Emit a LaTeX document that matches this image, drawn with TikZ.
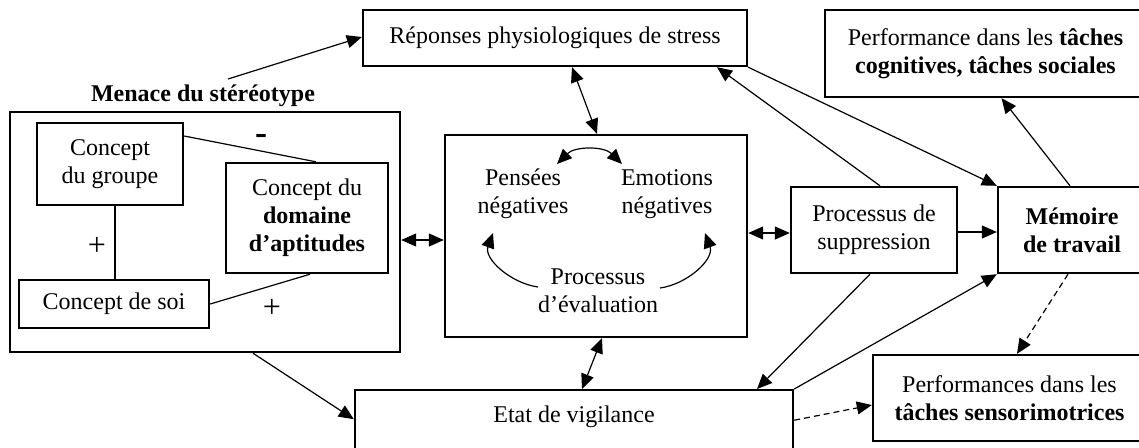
\documentclass[tikz,border=0pt]{standalone}
\usepackage{fontspec}
\setmainfont{Liberation Serif}
\usetikzlibrary{arrows.meta,calc}
\begin{document}
\begin{tikzpicture}[x=0.5pt,y=-0.5pt,
  every node/.style={font=\fontsize{12}{14}\selectfont},
  box/.style={draw,line width=1.2pt,inner sep=0pt,align=center},
  txt/.style={inner sep=0pt,align=center},
  conn/.style={line width=0.6pt},
  arr/.style={conn,-{Triangle[length=7.5pt,width=6.5pt]}},
  darr/.style={conn,{Triangle[length=7.5pt,width=6.5pt]}-{Triangle[length=7.5pt,width=6.5pt]}},
  dash line/.style={dash pattern=on 3pt off 2pt}]
\useasboundingbox (0,0) rectangle (1139,447);
\clip (0,0) rectangle (1139,447);

% boxes
\node[box,minimum width=192pt,minimum height=28pt] (resp) at (555,38) {Réponses physiologiques de stress};
\node[box,minimum width=160.5pt,minimum height=43.5pt] (perfcog) at (985.5,53.5) {Performance dans les \textbf{tâches}\\\textbf{cognitives, tâches sociales}};
\node[txt,font=\fontsize{12}{14}\selectfont\bfseries] (title) at (203,96) {Menace du stéréotype};
\node[box,minimum width=195pt,minimum height=120pt] (menace) at (205,232) {};
\node[box,minimum width=73pt,minimum height=41pt] (groupe) at (110,164) {Concept\\du groupe};
\node[box,minimum width=81pt,minimum height=55pt] (domaine) at (307,218) {Concept du\\\textbf{domaine}\\\textbf{d’aptitudes}};
\node[box,minimum width=95pt,minimum height=24pt] (soi) at (114,304) {Concept de soi};
\node[box,minimum width=151pt,minimum height=101pt] (central) at (596,236) {};
\node[txt] (pens) at (523,194) {Pensées\\négatives};
\node[txt] (emot) at (667,194) {Emotions\\négatives};
\node[txt] (proc) at (598,291) {Processus\\d’évaluation};
\node[box,minimum width=83pt,minimum height=43pt] (suppr) at (874,230) {Processus de\\suppression};
\node[box,minimum width=74pt,minimum height=43pt] (memoire) at (1072,230) {\textbf{Mémoire}\\\textbf{de travail}};
\node[box,minimum width=136.5pt,minimum height=43pt] (sensori) at (1009.5,398) {Performances dans les\\\textbf{tâches sensorimotrices}};
\node[box,anchor=north,minimum width=219pt,text height=16pt,text depth=19.5pt] (vigil) at (574,389) {Etat de vigilance};

% signs
\node[txt,font=\fontsize{18}{18}\selectfont\bfseries] (minus) at (261,139) {-};
\node[txt,font=\fontsize{16}{16}\selectfont] (plus1) at (97,246) {+};
\node[txt,font=\fontsize{16}{16}\selectfont] (plus2) at (272,308) {+};

% inner links
\draw[conn] ($(groupe.east)+(0,-28)$) -- ($(domaine.north)+(9,0)$);
\draw[conn] ($(groupe.south)+(5,0)$) -- ($(soi.north)+(1,0)$);
\draw[conn] (soi.east) -- ($(domaine.south)+(3,0)$);

% connectors
\coordinate (m1) at (228,79);
\draw[arr] (m1) -- ($(resp.west)+(0,-1)$);
\draw[darr] ($(resp.south)+(17,0)$) -- ($(central.north)+(1,0)$);
\draw[arr] ($(suppr.north)+(6,0)$) -- ($(resp.south)+(162,0)$);
\draw[arr] (resp.south east) -- (memoire.north west);
\draw[arr] ($(memoire.north)+(-2,0)$) -- ($(perfcog.south)+(16,0)$);
\draw[darr] ($(menace.east)+(0,8)$) -- ($(central.west)+(0,4)$);
\draw[darr] ($(central.east)+(0,-3)$) -- ($(suppr.west)+(0,3)$);
\draw[arr] ($(suppr.east)+(0,2)$) -- ($(memoire.west)+(0,2)$);
\draw[arr,dash line] ($(memoire.south)+(-4,0)$) -- ($(sensori.north)+(7.5,0)$);
\draw[arr] ($(menace.south)+(48,0)$) -- ($(vigil.west)+(0,-6.5)$);
\draw[darr] ($(central.south)+(6,0)$) -- ($(vigil.north)+(8,0)$);
\draw[arr] ($(suppr.south)+(-4,0)$) -- ($(vigil.north)+(183,0)$);
\draw[arr] (vigil.north east) -- (memoire.south west);
\draw[arr,dash line] ($(vigil.east)+(0,-5.5)$) -- ($(sensori.west)+(0,7)$);

% inner curved arrows
\draw[darr] ($(central.center)+(-39,-72)$) to[bend left=45] ($(central.center)+(26,-72)$);
\draw[arr] ($(central.center)+(-58,51)$) to[out=172,in=250] ($(central.center)+(-103,-3)$);
\draw[arr] ($(central.center)+(64,52)$) to[out=8,in=290] ($(central.center)+(109,-3)$);
\end{tikzpicture}
\end{document}
